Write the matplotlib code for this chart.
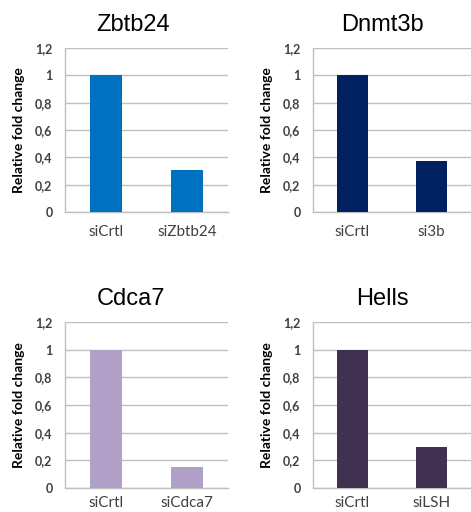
import matplotlib

matplotlib.use("Agg")
import matplotlib.pyplot as plt

# ── data ──
genes = ["Zbtb24", "Dnmt3b", "Cdca7", "Hells"]
conditions = [
    ["siCrtl", "siZbtb24"],
    ["siCrtl", "si3b"],
    ["siCrtl", "siCdca7"],
    ["siCrtl", "siLSH"],
]
fold_change = [
    [1.0, 0.31],
    [1.0, 0.37],
    [1.0, 0.155],
    [1.0, 0.30],
]
bar_colors = ["#0070C0", "#002060", "#B1A0C7", "#403151"]
y_ticks = [0, 0.2, 0.4, 0.6, 0.8, 1.0, 1.2]
y_tick_labels = ["0", "0,2", "0,4", "0,6", "0,8", "1", "1,2"]

plt.rcParams["font.family"] = ["Lato", "DejaVu Sans"]

W, H = 471, 512
fig = plt.figure(figsize=(W / 100, H / 100), dpi=100)

# axes boxes in pixels: left, top, right, bottom
boxes = [
    (65, 48, 228, 212),
    (313, 48, 471, 212),
    (65, 322, 228, 488),
    (313, 322, 471, 488),
]
title_x = [0.42, 0.44, 0.405, 0.44]
label_pad = [9, 9, 6, 6]

for i, gene in enumerate(genes):
    l, t, r, b = boxes[i]
    ax = fig.add_axes([l / W, 1 - b / H, (r - l) / W, (b - t) / H])
    x = range(len(conditions[i]))
    ax.bar(x, fold_change[i], width=0.39, color=bar_colors[i], zorder=3)

    ax.set_xlim(-0.5, 1.5)
    ax.set_ylim(0, 1.2)
    ax.set_xticks(list(x))
    ax.set_xticklabels(conditions[i], fontsize=11, color="#404040")
    ax.set_yticks(y_ticks)
    ax.set_yticklabels(y_tick_labels, fontsize=9, color="#404040",
                       fontweight="bold")
    ax.tick_params(axis="both", length=0)
    ax.tick_params(axis="x", pad=label_pad[i])
    ax.tick_params(axis="y", pad=9)

    ax.grid(axis="y", color="#BFBFBF", linewidth=1, zorder=0)
    for side in ["top", "right"]:
        ax.spines[side].set_visible(False)
    for side in ["left", "bottom"]:
        ax.spines[side].set_color("#BFBFBF")
        ax.spines[side].set_linewidth(1)

    ax.set_ylabel("Relative fold change", fontsize=10, fontweight="bold",
                  color="black", labelpad=7)

    ax.text(title_x[i], 1.0 + 23 / (b - t), gene, transform=ax.transAxes,
            ha="center", va="center", fontsize=17,
            family="Liberation Sans")

fig.savefig("out.png", dpi=100)
